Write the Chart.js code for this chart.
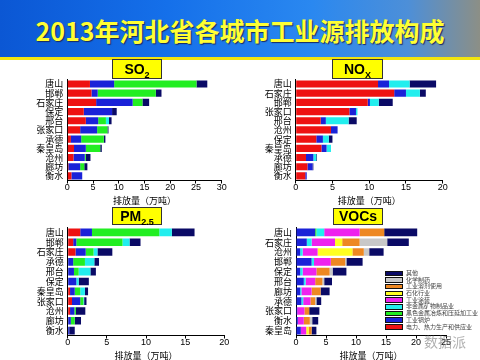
<!DOCTYPE html>
<html>
<head>
<meta charset="utf-8">
<script src="https://cdn.jsdelivr.net/npm/chart.js@4.4.0/dist/chart.umd.min.js"></script>
<style>
body { margin: 0; width: 480px; height: 360px; overflow: hidden; background: #fff; position: relative; font-family: "Noto Sans CJK SC", sans-serif; }
#banner { position: absolute; left: 0; top: 0; width: 480px; height: 57px;
  background: linear-gradient(90deg, #0b57d4 0%, #1570ea 35%, #2a88f0 65%, #4d8fd8 85%, #8c8f86 100%); }
#stripe { position: absolute; left: 0; top: 57px; width: 480px; height: 3px; background: #f2e40e; }
#title { position: absolute; left: 0; top: 13px; width: 480px; text-align: center; font-size: 25px; font-weight: bold;
  color: #ffff33; line-height: 34px; text-shadow: 1px 1px 1px #1a2a60; }
.box { position: absolute; box-sizing: border-box; border: 1px solid #333; background: #ffff00; text-align: center;
  font-family: "Liberation Sans", Arial, sans-serif; font-weight: bold; font-size: 14px; color: #000; }
.box sub { font-size: 9px; }
.wrap { position: absolute; }
#legend { position: absolute; left: 385px; top: 270px; background: #fff; }
.li { height: 6.7px; position: relative; }
.sw { position: absolute; left: 0; top: 0.6px; width: 18px; height: 5.5px; box-sizing: border-box; border: 1px solid #111; }
.lt { position: absolute; left: 21px; top: -1px; font-size: 6px; line-height: 8px; color: #444; white-space: nowrap; }
#wm { position: absolute; left: 424px; top: 331px; font-size: 14px; color: rgba(110,110,110,0.55); }
</style>
</head>
<body>
<div id="banner"></div>
<div id="stripe"></div>
<div id="title">2013年河北省各城市工业源排放构成</div>

<div class="wrap" style="left:0;top:70px;"><canvas id="so2" width="240" height="140"></canvas></div>
<div class="wrap" style="left:240px;top:70px;"><canvas id="nox" width="240" height="140"></canvas></div>
<div class="wrap" style="left:0;top:218px;"><canvas id="pm" width="240" height="143"></canvas></div>
<div class="wrap" style="left:240px;top:218px;"><canvas id="voc" width="240" height="143"></canvas></div>

<div class="box" style="left:112px;top:59px;width:50px;height:20px;line-height:18px;">SO<sub>2</sub></div>
<div class="box" style="left:332px;top:59px;width:51px;height:20px;line-height:18px;">NO<sub>X</sub></div>
<div class="box" style="left:112px;top:207px;width:50px;height:18px;line-height:16px;">PM<sub>2.5</sub></div>
<div class="box" style="left:333px;top:208px;width:50px;height:17px;line-height:15px;">VOCs</div>

<div id="legend"></div>
<div id="wm">数据派</div>

<script>
// series (stack order, bottom first) and colours
const seriesNames = ['电力、热力生产和供应业', '工业锅炉', '黑色金属冶炼和压延加工业', '非金属矿物制品业',
  '工业涂装', '石化行业', '工业溶剂使用', '化学制药', '其他'];
const seriesColors = ['#ee1111', '#1a22d8', '#22ee22', '#22eeee', '#ee22ee', '#ffff22', '#ee8822', '#c8c8c8', '#0a0a66'];

// SO2 (万吨)
const so2Cities = ['唐山', '邯郸', '石家庄', '保定', '邢台', '张家口', '承德', '秦皇岛', '沧州', '廊坊', '衡水'];
const so2Power = [4.4, 4.7, 5.6, 3.2, 3.6, 2.5, 0.7, 1.3, 1.2, 0.2, 0.8];
const so2Boiler = [4.7, 1.2, 7.1, 5.5, 2.4, 3.3, 2.0, 2.3, 2.2, 2.3, 2.1];
const so2Steel = [16.0, 11.3, 1.9, 0, 1.5, 2.0, 4.4, 2.8, 0.2, 0.8, 0];
const so2Mineral = [0, 0, 0, 0, 0.6, 0, 0, 0, 0, 0, 0];
const so2Other = [2.1, 1.1, 1.3, 0.9, 0.5, 0.2, 0.3, 0.3, 0.9, 0.6, 0];

// NOx
const noxCities = ['唐山', '石家庄', '邯郸', '张家口', '邢台', '沧州', '保定', '秦皇岛', '承德', '廊坊', '衡水'];
const noxPower = [11.2, 13.4, 9.8, 7.3, 3.4, 4.8, 2.8, 3.5, 1.4, 1.6, 1.3];
const noxBoiler = [1.5, 1.6, 0.3, 0.9, 0.7, 0.9, 0.9, 0.7, 1.0, 0.7, 0.2];
const noxMineral = [2.8, 1.9, 1.2, 0.2, 3.1, 0, 0.8, 0.6, 0.4, 0, 0];
const noxOther = [3.6, 0.8, 1.9, 0, 1.1, 0, 0.5, 0, 0.1, 0.1, 0];

// PM2.5
const pmCities = ['唐山', '邯郸', '石家庄', '承德', '邢台', '保定', '秦皇岛', '张家口', '沧州', '廊坊', '衡水'];
const pmPower = [1.6, 0.7, 1.0, 0, 0, 0, 0.3, 0.55, 0.3, 0, 0];
const pmBoiler = [1.5, 0.4, 1.3, 0.7, 0.8, 1.1, 0.6, 1.05, 0.55, 0.4, 0.2];
const pmSteel = [8.6, 5.9, 1.0, 1.5, 0.6, 0, 0.7, 0.4, 0.2, 0.5, 0];
const pmMineral = [1.6, 0.9, 0.5, 1.2, 1.5, 0.3, 0.6, 0.1, 0, 0, 0];
const pmOther = [2.9, 1.4, 1.9, 0.6, 0.7, 1.3, 0.4, 0.3, 1.2, 0.8, 0.7];

// VOCs
const vocCities = ['唐山', '石家庄', '沧州', '邯郸', '保定', '邢台', '廊坊', '承德', '张家口', '衡水', '秦皇岛'];
const vocBoiler = [3.2, 1.8, 0.7, 2.6, 0.7, 1.3, 0.7, 0.9, 0.2, 0.3, 0.8];
const vocSteel = [0.2, 0, 0, 0, 0, 0, 0, 0, 0, 0, 0];
const vocMineral = [1.3, 0.8, 0.4, 0.4, 0.4, 0.3, 0.2, 0.3, 0, 0, 0];
const vocCoating = [5.9, 3.9, 2.5, 2.8, 2.3, 1.6, 1.7, 1.2, 1.2, 1.0, 0.9];
const vocPetro = [0, 1.2, 5.8, 0, 0, 0, 0, 0, 0, 0, 0.4];
const vocSolvent = [4.1, 2.9, 1.9, 2.4, 2.2, 1.2, 1.5, 0.8, 0.8, 1.0, 0.5];
const vocPharma = [0, 4.6, 0.9, 0.2, 0.5, 0.3, 0, 0.2, 0, 0.4, 0];
const vocOther = [5.5, 3.6, 2.4, 2.7, 2.3, 1.3, 1.5, 0.8, 1.7, 1.0, 0.8];

const axisTitle = '排放量（万吨）';

function makeChart(id, cities, sets, max, pad) {
  new Chart(document.getElementById(id), {
    type: 'bar',
    data: {
      labels: cities,
      datasets: sets.map(s => ({
        label: seriesNames[s[0]],
        data: s[1],
        backgroundColor: seriesColors[s[0]],
        barPercentage: 0.78,
        categoryPercentage: 1
      }))
    },
    options: {
      indexAxis: 'y',
      responsive: false,
      animation: false,
      layout: { padding: pad },
      plugins: { legend: { display: false }, tooltip: { enabled: false } },
      scales: {
        x: {
          stacked: true, min: 0, max: max,
          afterFit: function (scale) { scale.height = 25; },
          ticks: { stepSize: 5, color: '#000', padding: -1, font: { family: '"Liberation Sans", Arial', size: 9 } },
          grid: { drawOnChartArea: false, drawTicks: true, tickLength: 3, color: '#000' },
          border: { color: '#000' },
          title: { display: true, text: axisTitle, color: '#000', padding: 0,
            font: { family: '"Noto Sans CJK SC"', size: 9 } }
        },
        y: {
          stacked: true,
          afterFit: function (scale) { scale.width = pad.yw; },
          ticks: { color: '#000', padding: 4, autoSkip: false, font: { family: '"Noto Sans CJK SC"', size: 9 } },
          grid: { drawOnChartArea: false, drawTicks: false },
          border: { color: '#000' }
        }
      }
    }
  });
}

makeChart('so2', so2Cities, [[0, so2Power], [1, so2Boiler], [2, so2Steel], [3, so2Mineral], [8, so2Other]], 30,
  { left: 0, top: 9, right: 18.3, bottom: 4.5, yw: 67.3 });
makeChart('nox', noxCities, [[0, noxPower], [1, noxBoiler], [3, noxMineral], [8, noxOther]], 20,
  { left: 0, top: 9, right: 37.3, bottom: 4.5, yw: 55.7 });
makeChart('pm', pmCities, [[0, pmPower], [1, pmBoiler], [2, pmSteel], [3, pmMineral], [8, pmOther]], 20,
  { left: 0, top: 9.5, right: 15.7, bottom: 0.5, yw: 67.7 });
makeChart('voc', vocCities, [[1, vocBoiler], [2, vocSteel], [3, vocMineral], [4, vocCoating], [5, vocPetro],
  [6, vocSolvent], [7, vocPharma], [8, vocOther]], 25,
  { left: 0, top: 9.5, right: 34, bottom: 0.5, yw: 56 });

// VOCs legend, listed from the top of the stack down
const legend = document.getElementById('legend');
for (let i = seriesNames.length - 1; i >= 0; i--) {
  const row = document.createElement('div');
  row.className = 'li';
  row.innerHTML = '<div class="sw" style="background:' + seriesColors[i] + '"></div><div class="lt">' + seriesNames[i] + '</div>';
  legend.appendChild(row);
}
</script>
</body>
</html>
